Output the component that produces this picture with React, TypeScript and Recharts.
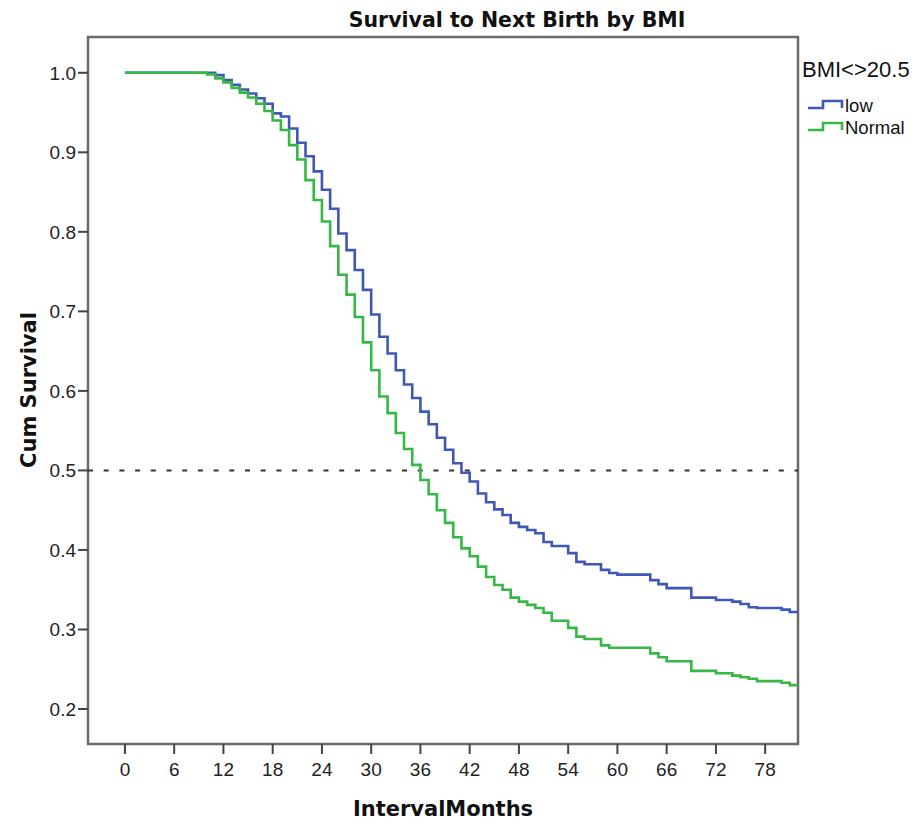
import React from "react";
import { LineChart, Line, XAxis, YAxis, ReferenceLine, ReferenceArea } from "recharts";

const months = [
  0, 1, 2, 3, 4, 5, 6, 7, 8, 9, 10, 11, 12, 13, 14, 15, 16, 17, 18, 19, 20,
  21, 22, 23, 24, 25, 26, 27, 28, 29, 30, 31, 32, 33, 34, 35, 36, 37, 38, 39, 40,
  41, 42, 43, 44, 45, 46, 47, 48, 49, 50, 51, 52, 53, 54, 55, 56, 57, 58, 59, 60,
  61, 62, 63, 64, 65, 66, 67, 68, 69, 70, 71, 72, 73, 74, 75, 76, 77, 78, 79, 80,
  81, 82,
];

const lowSurvival = [
  1.0, 1.0, 1.0, 1.0, 1.0, 1.0, 1.0, 1.0, 1.0, 1.0, 1.0, 0.997, 0.991, 0.985, 0.979, 0.974, 0.968, 0.961, 0.949, 0.945, 0.93,
  0.912, 0.895, 0.876, 0.853, 0.829, 0.798, 0.777, 0.752, 0.727, 0.696, 0.668, 0.647, 0.626, 0.608, 0.591, 0.574, 0.558, 0.541, 0.526, 0.509,
  0.497, 0.486, 0.471, 0.46, 0.451, 0.444, 0.434, 0.429, 0.425, 0.421, 0.41, 0.405, 0.405, 0.396, 0.385, 0.382, 0.382, 0.375, 0.371, 0.369,
  0.369, 0.369, 0.369, 0.362, 0.357, 0.352, 0.352, 0.352, 0.34, 0.34, 0.34, 0.337, 0.337, 0.335, 0.332, 0.328, 0.327, 0.327, 0.327, 0.325,
  0.322, 0.322,
];

const normalSurvival = [
  1.0, 1.0, 1.0, 1.0, 1.0, 1.0, 1.0, 1.0, 1.0, 1.0, 0.998, 0.993, 0.988, 0.981, 0.975, 0.969, 0.961, 0.952, 0.94, 0.928, 0.909,
  0.891, 0.865, 0.84, 0.813, 0.782, 0.746, 0.721, 0.693, 0.661, 0.626, 0.593, 0.572, 0.547, 0.527, 0.507, 0.488, 0.47, 0.45, 0.434, 0.416,
  0.402, 0.392, 0.379, 0.366, 0.356, 0.35, 0.34, 0.335, 0.331, 0.327, 0.321, 0.311, 0.311, 0.302, 0.291, 0.288, 0.288, 0.28, 0.277, 0.277,
  0.277, 0.277, 0.277, 0.27, 0.265, 0.26, 0.26, 0.26, 0.248, 0.248, 0.248, 0.245, 0.245, 0.242, 0.24, 0.238, 0.235, 0.235, 0.235, 0.233,
  0.23, 0.23,
];

const xTicks = [0, 6, 12, 18, 24, 30, 36, 42, 48, 54, 60, 66, 72, 78];
const yTicks = [0.2, 0.3, 0.4, 0.5, 0.6, 0.7, 0.8, 0.9, 1.0];

const seriesNames = ["low", "Normal"];
const legendTitle = "BMI<>20.5";
const chartTitle = "Survival to Next Birth by BMI";
const xLabel = "IntervalMonths";
const yLabel = "Cum Survival";

const data = months.map((m, i) => ({ month: m, low: lowSurvival[i], normal: normalSurvival[i] }));

const X_DOMAIN: [number, number] = [-4.5, 82];
const Y_DOMAIN: [number, number] = [0.156, 1.045];

const BLUE = "#3f58b6";
const GREEN = "#36b846";
const TICK_FONT = "'Liberation Sans', Arial, sans-serif";
const BOLD_FONT = "'DejaVu Sans', Verdana, sans-serif";

export default function App() {
  return (
    <div style={{ position: "absolute", left: 0, top: 0, width: 915, height: 824, background: "#fff" }}>
      <LineChart width={915} height={824} data={data} margin={{ top: 37, right: 117, bottom: 0, left: 0 }}>
        <XAxis
          type="number"
          dataKey="month"
          domain={X_DOMAIN}
          allowDataOverflow
          ticks={xTicks}
          height={80}
          tickSize={10}
          tickMargin={9}
          axisLine={false}
          tickLine={{ stroke: "#444", strokeWidth: 2 }}
          tick={{ fill: "#222", fontSize: 19, fontFamily: TICK_FONT }}
        />
        <YAxis
          type="number"
          domain={Y_DOMAIN}
          allowDataOverflow
          ticks={yTicks}
          width={88}
          tickSize={10}
          tickMargin={2}
          axisLine={false}
          tickLine={{ stroke: "#444", strokeWidth: 2 }}
          tick={{ fill: "#222", fontSize: 19, fontFamily: TICK_FONT }}
          tickFormatter={(v: number) => v.toFixed(1)}
        />
        <ReferenceArea
          x1={X_DOMAIN[0]}
          x2={X_DOMAIN[1]}
          y1={Y_DOMAIN[0]}
          y2={Y_DOMAIN[1]}
          fill="none"
          fillOpacity={0}
          stroke="#6a6a6a"
          strokeWidth={2.5}
          ifOverflow="visible"
        />
        <ReferenceLine y={0.5} stroke="#333" strokeWidth={2} strokeDasharray="5 10.7" />
        <Line type="stepAfter" dataKey="low" stroke={BLUE} strokeWidth={2.6} dot={false} isAnimationActive={false} />
        <Line type="stepAfter" dataKey="normal" stroke={GREEN} strokeWidth={2.6} dot={false} isAnimationActive={false} />
      </LineChart>
      <svg width={915} height={824} style={{ position: "absolute", left: 0, top: 0, pointerEvents: "none" }}>
        <text x={517} y={27} textAnchor="middle" fontFamily={BOLD_FONT} fontWeight="bold" fontSize={20.5} fill="#111">
          {chartTitle}
        </text>
        <text x={443} y={816} textAnchor="middle" fontFamily={BOLD_FONT} fontWeight="bold" fontSize={21} fill="#111">
          {xLabel}
        </text>
        <text transform="translate(36,390) rotate(-90)" textAnchor="middle" fontFamily={BOLD_FONT} fontWeight="bold" fontSize={21} fill="#111">
          {yLabel}
        </text>
        <text x={802} y={77} fontFamily={TICK_FONT} fontSize={22} fill="#111">
          {legendTitle}
        </text>
        <polyline points="808,108 823,108 823,101 842,101 842,108" fill="none" stroke={BLUE} strokeWidth={2.6} />
        <text x={845} y={112} fontFamily={TICK_FONT} fontSize={18.5} fill="#111">
          {seriesNames[0]}
        </text>
        <polyline points="808,130 823,130 823,123 842,123 842,130" fill="none" stroke={GREEN} strokeWidth={2.6} />
        <text x={845} y={134} fontFamily={TICK_FONT} fontSize={18.5} fill="#111">
          {seriesNames[1]}
        </text>
      </svg>
    </div>
  );
}
